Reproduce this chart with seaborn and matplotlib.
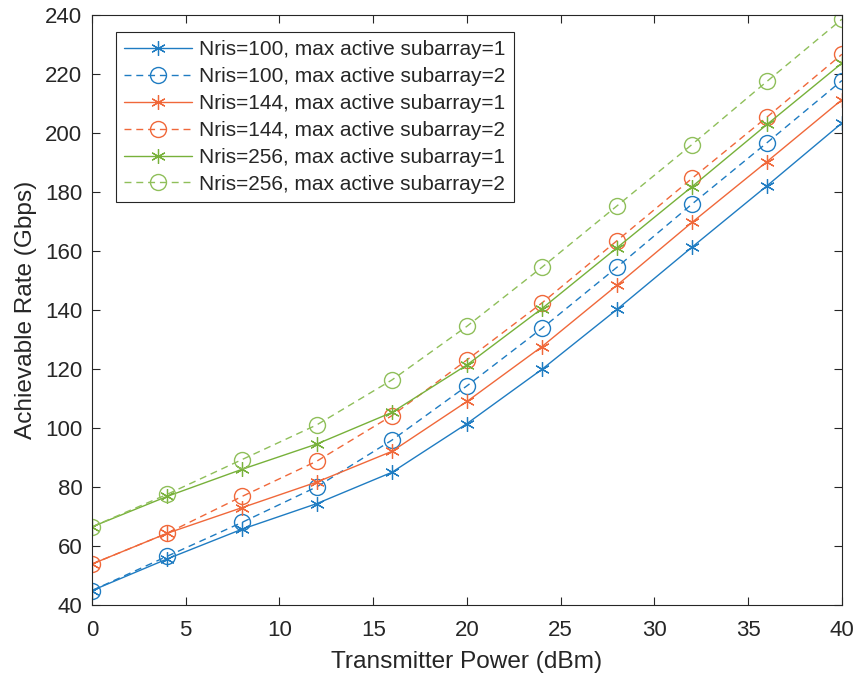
import numpy as np
import pandas as pd
import matplotlib
matplotlib.use("Agg")
import matplotlib.pyplot as plt
import seaborn as sns

power = [0, 4, 8, 12, 16, 20, 24, 28, 32, 36, 40]

n100_s1 = [44.8, 55.5, 65.6, 74.3, 84.9, 101.4, 119.8, 140.1, 161.2, 182.0, 203.3]
n100_s2 = [44.8, 56.4, 67.9, 80.0, 95.8, 114.2, 133.7, 154.4, 175.8, 196.6, 217.7]
n144_s1 = [53.8, 64.2, 72.9, 81.6, 92.0, 108.9, 127.5, 148.3, 169.6, 190.2, 211.2]
n144_s2 = [53.8, 64.2, 76.7, 88.7, 104.1, 123.0, 142.3, 163.4, 184.5, 205.3, 226.6]
n256_s1 = [66.4, 76.7, 85.9, 94.5, 105.2, 121.3, 140.4, 161.0, 181.7, 202.8, 223.6]
n256_s2 = [66.4, 77.4, 89.2, 101.0, 116.2, 134.4, 154.4, 175.2, 196.0, 217.4, 238.5]

labels = ["Nris=100, max active subarray=1",
          "Nris=100, max active subarray=2",
          "Nris=144, max active subarray=1",
          "Nris=144, max active subarray=2",
          "Nris=256, max active subarray=1",
          "Nris=256, max active subarray=2"]
series = [n100_s1, n100_s2, n144_s1, n144_s2, n256_s1, n256_s2]
colors = ["#1f7cc2", "#1f7cc2", "#f0683a", "#f0683a", "#77b13a", "#8fbf5a"]

sns.set_style("ticks")
plt.rcParams['font.family'] = ['Liberation Sans', 'DejaVu Sans']

fig = plt.figure(figsize=(8.58, 6.82), dpi=100)
ax = fig.add_axes([0.1072, 0.1133, 0.8741, 0.8651])

for i, (lab, vals, col) in enumerate(zip(labels, series, colors)):
    df = pd.DataFrame({"power": power, "rate": vals})
    if i % 2 == 0:
        sns.lineplot(data=df, x="power", y="rate", ax=ax, color=col,
                     marker=(6, 2, 0), markersize=10.5, markeredgewidth=0.9,
                     markeredgecolor=col, markerfacecolor=col,
                     linewidth=1.0, linestyle="-", label=lab)
    else:
        sns.lineplot(data=df, x="power", y="rate", ax=ax, color=col,
                     marker="o", markersize=11.5, markerfacecolor="none",
                     markeredgecolor=col, markeredgewidth=1.0,
                     linewidth=1.0, linestyle=(0, (5, 3.5)), label=lab)

ax.set_xlim(0, 40)
ax.set_ylim(40, 240)
ax.set_xticks(np.arange(0, 41, 5))
ax.set_yticks(np.arange(40, 241, 20))
ax.tick_params(direction="in", top=True, right=True, labelsize=16,
               length=6, width=0.8, colors="#262626")
ax.tick_params(axis="x", pad=11)
ax.tick_params(axis="y", pad=7)
for s in ax.spines.values():
    s.set_visible(True)
    s.set_color("#262626")
    s.set_linewidth(0.8)
ax.set_xlabel("Transmitter Power (dBm)", fontsize=17.6, color="#262626", labelpad=7)
ax.set_ylabel("Achievable Rate (Gbps)", fontsize=17.6, color="#262626", labelpad=6)

leg = ax.legend(loc="upper left", bbox_to_anchor=(0.0316, 0.971), fontsize=15,
                frameon=True, fancybox=False, framealpha=1, edgecolor="#262626",
                borderpad=0.4, labelspacing=0.38, handlelength=3.25,
                handletextpad=0.35, borderaxespad=0)
leg.get_frame().set_linewidth(0.8)

fig.savefig("out.png", dpi=100)
